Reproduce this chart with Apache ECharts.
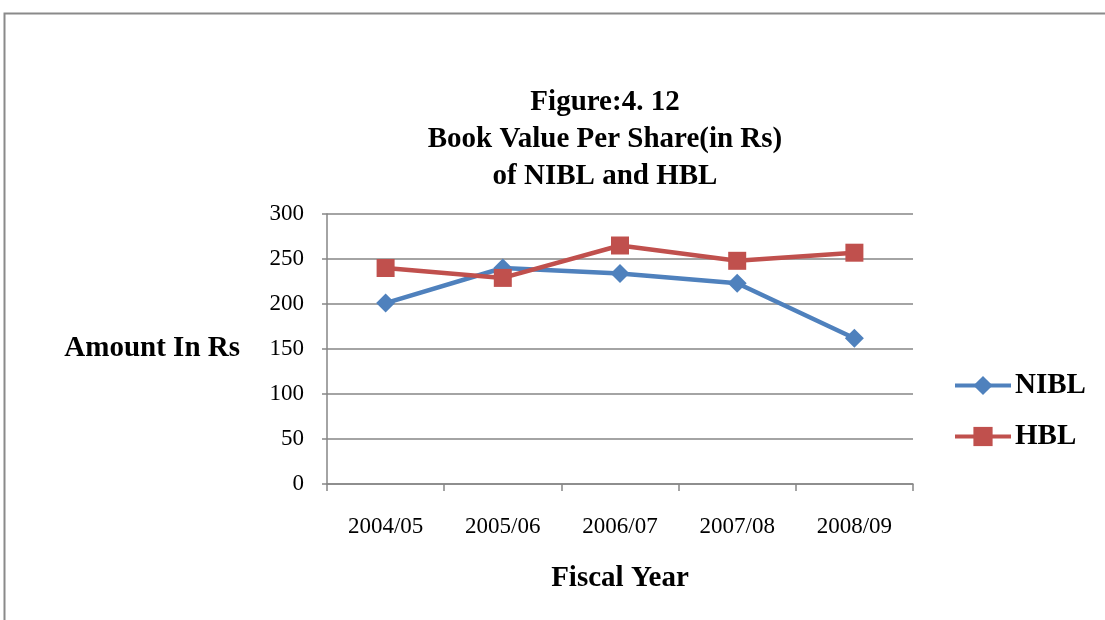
<!DOCTYPE html>
<html>
<head>
<meta charset="utf-8">
<script src="https://cdn.jsdelivr.net/npm/echarts@6/dist/echarts.min.js"></script>
<style>html,body{margin:0;padding:0;background:#fff;}#c{width:1105px;height:620px;}</style>
</head>
<body>
<div id="c"></div>
<script>
var categories = ['2004/05', '2005/06', '2006/07', '2007/08', '2008/09'];
var nibl = [201, 240, 234, 223, 162];
var hbl = [240, 229, 265, 248, 257];
var yTicks = [0, 50, 100, 150, 200, 250, 300];

var chart = echarts.init(document.getElementById('c'));
var serif = '"Liberation Serif", "Times New Roman", serif';
chart.setOption({
  backgroundColor: '#fff',
  animation: false,
  graphic: [{
    type: 'rect', left: 2, top: 11, z: -1,
    shape: { width: 1200, height: 700 },
    style: { fill: 'none', stroke: '#8a8a8a', lineWidth: 2 }
  }],
  title: {
    text: 'Figure:4. 12\nBook Value Per Share(in Rs)\nof NIBL and HBL',
    left: 600, top: 79, textAlign: 'center',
    textStyle: { fontFamily: serif, fontWeight: 'bold', fontSize: 29, lineHeight: 37, color: '#000' }
  },
  legend: {
    orient: 'vertical', left: 948, top: 366, itemGap: 22,
    itemWidth: 56, itemHeight: 24,
    lineStyle: { width: 4 },
    textStyle: { fontFamily: serif, fontWeight: 'bold', fontSize: 29, color: '#000', padding: [0, 0, 0, -1] },
    data: ['NIBL', 'HBL']
  },
  grid: { left: 327, right: 192, top: 214, bottom: 136, containLabel: false },
  xAxis: {
    type: 'category', data: categories, boundaryGap: true,
    name: 'Fiscal Year', nameLocation: 'middle', nameGap: 80,
    nameTextStyle: { fontFamily: serif, fontWeight: 'bold', fontSize: 29, color: '#000' },
    axisLine: { lineStyle: { color: '#868686', width: 1.5 } },
    axisTick: { show: true, length: 7, lineStyle: { color: '#868686', width: 1.5 } },
    axisLabel: { fontFamily: serif, fontSize: 23, color: '#000', margin: 31 },
    splitLine: { show: false }
  },
  yAxis: {
    type: 'value', min: 0, max: 300, interval: 50,
    name: 'Amount In Rs', nameLocation: 'middle', nameRotate: 0, nameGap: 87,
    nameTextStyle: { fontFamily: serif, fontWeight: 'bold', fontSize: 29, color: '#000', align: 'right', verticalAlign: 'middle', padding: [8, 0, 0, 0] },
    axisLine: { show: true, lineStyle: { color: '#868686', width: 1.5 } },
    axisTick: { show: true, length: 5, lineStyle: { color: '#868686', width: 1.5 } },
    axisLabel: { fontFamily: serif, fontSize: 23, color: '#000', margin: 23,
      formatter: function (v) { return yTicks.indexOf(v) >= 0 ? String(v) : ''; } },
    splitLine: { show: true, lineStyle: { color: '#868686', width: 1.5 } }
  },
  series: [{
    name: 'NIBL', type: 'line', data: nibl,
    symbol: 'diamond', symbolSize: 19,
    lineStyle: { color: '#4F81BD', width: 4.5 },
    itemStyle: { color: '#4F81BD' }
  }, {
    name: 'HBL', type: 'line', data: hbl,
    symbol: 'rect', symbolSize: 18,
    lineStyle: { color: '#C0504D', width: 4.5 },
    itemStyle: { color: '#C0504D' }
  }]
});
</script>
</body>
</html>
